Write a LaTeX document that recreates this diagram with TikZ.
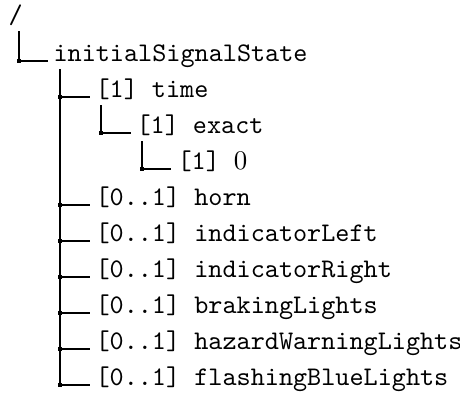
\documentclass[tikz,border=0pt]{standalone}
\begin{document}
\begin{tikzpicture}[x=0.372pt,y=-0.372pt,
  lbl/.style={anchor=base west,inner sep=0pt,font=\ttfamily},
  conn/.style={line width=0.75pt,black},
  sqdot/.style={rectangle,fill=black,inner sep=0pt,minimum size=1.5pt}]
\useasboundingbox (0,0) rectangle (460,394);
\node[lbl] (root) at (8,23) {/};
\node[lbl] (iss) at (53,61) {initialSignalState};
\node[lbl] (time) at (95,97) {[1] time};
\node[lbl] (exact) at (136,133) {[1] exact};
\node[lbl] (zero) at (177,169) {[1] $0$};
\node[lbl] (horn) at (95,205) {[0..1] horn};
\node[lbl] (il) at (95,241) {[0..1] indicatorLeft};
\node[lbl] (ir) at (95,277) {[0..1] indicatorRight};
\node[lbl] (bl) at (95,313) {[0..1] brakingLights};
\node[lbl] (hw) at (95,349) {[0..1] hazardWarningLights};
\node[lbl] (fb) at (95,385) {[0..1] flashingBlueLights};
\draw[conn] ([shift={(11,8)}]root.base west) |- node[pos=0.5,sqdot]{} ([shift={(-5,0)}]iss.base west);
\foreach \c in {time,horn,il,ir,bl,hw,fb}
  \draw[conn] ([shift={(7,8)}]iss.base west) |- node[pos=0.5,sqdot]{} ([shift={(-5,0)}]\c.base west);
\draw[conn] ([shift={(6,8)}]time.base west) |- node[pos=0.5,sqdot]{} ([shift={(-5,0)}]exact.base west);
\draw[conn] ([shift={(6,8)}]exact.base west) |- node[pos=0.5,sqdot]{} ([shift={(-6,0)}]zero.base west);
\end{tikzpicture}
\end{document}
